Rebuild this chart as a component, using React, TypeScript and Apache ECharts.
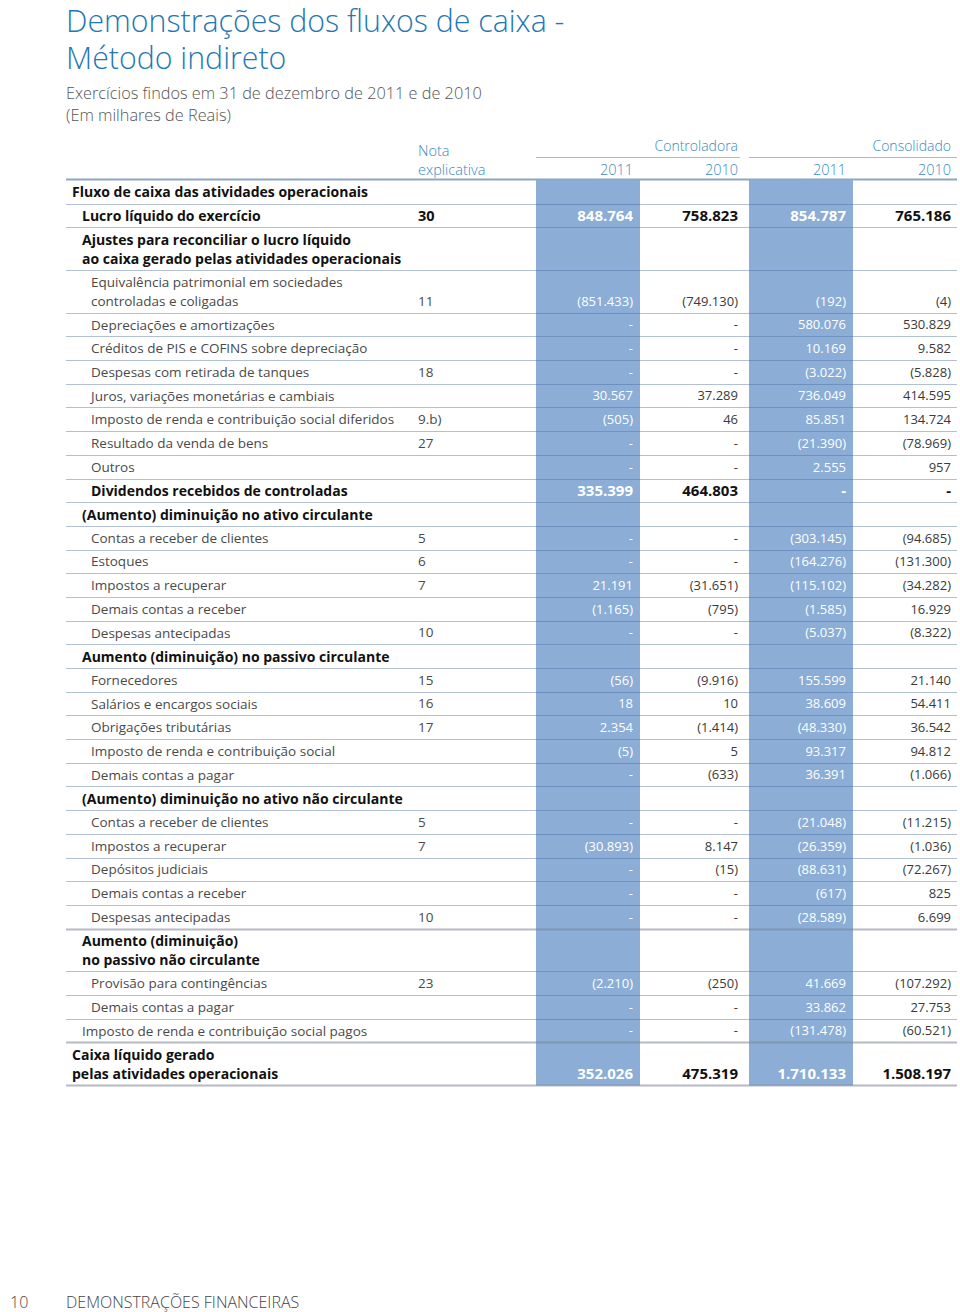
import React, { useEffect, useRef } from "react";
import * as echarts from "echarts";

const titleLines = ["Demonstrações dos fluxos de caixa -", "Método indireto"];
const subtitleLines = ["Exercícios findos em 31 de dezembro de 2011 e de 2010", "(Em milhares de Reais)"];
const noteHeader = ["Nota", "explicativa"];
const groupNames = ["Controladora", "Consolidado"];
const years = ["2011", "2010", "2011", "2010"];
const footerPage = "10";
const footerText = "DEMONSTRAÇÕES FINANCEIRAS";

// S = section heading (bold, no values), B = bold row with values, I = regular item
const labels = [
  "Fluxo de caixa das atividades operacionais",
  "Lucro líquido do exercício",
  "Ajustes para reconciliar o lucro líquido\nao caixa gerado pelas atividades operacionais",
  "Equivalência patrimonial em sociedades\ncontroladas e coligadas",
  "Depreciações e amortizações",
  "Créditos de PIS e COFINS sobre depreciação",
  "Despesas com retirada de tanques",
  "Juros, variações monetárias e cambiais",
  "Imposto de renda e contribuição social diferidos",
  "Resultado da venda de bens",
  "Outros",
  "Dividendos recebidos de controladas",
  "(Aumento) diminuição no ativo circulante",
  "Contas a receber de clientes",
  "Estoques",
  "Impostos a recuperar",
  "Demais contas a receber",
  "Despesas antecipadas",
  "Aumento (diminuição) no passivo circulante",
  "Fornecedores",
  "Salários e encargos sociais",
  "Obrigações tributárias",
  "Imposto de renda e contribuição social",
  "Demais contas a pagar",
  "(Aumento) diminuição no ativo não circulante",
  "Contas a receber de clientes",
  "Impostos a recuperar",
  "Depósitos judiciais",
  "Demais contas a receber",
  "Despesas antecipadas",
  "Aumento (diminuição)\nno passivo não circulante",
  "Provisão para contingências",
  "Demais contas a pagar",
  "Imposto de renda e contribuição social pagos",
  "Caixa líquido gerado\npelas atividades operacionais",
];
const indent = [0, 1, 1, 2, 2, 2, 2, 2, 2, 2, 2, 2, 1, 2, 2, 2, 2, 2, 1, 2, 2, 2, 2, 2, 1, 2, 2, 2, 2, 2, 1, 2, 2, 1, 0];
const kinds = ["S", "B", "S", "I", "I", "I", "I", "I", "I", "I", "I", "B", "S", "I", "I", "I", "I", "I", "S", "I", "I", "I", "I", "I", "S", "I", "I", "I", "I", "I", "S", "I", "I", "I", "B"];
const notes = ["", "30", "", "11", "", "", "18", "", "9.b)", "27", "", "", "", "5", "6", "7", "", "10", "", "15", "16", "17", "", "", "", "5", "7", "", "", "10", "", "23", "", "", ""];
const ctrl2011 = [null, 848764, null, -851433, null, null, null, 30567, -505, null, null, 335399, null, null, null, 21191, -1165, null, null, -56, 18, 2354, -5, null, null, null, -30893, null, null, null, null, -2210, null, null, 352026];
const ctrl2010 = [null, 758823, null, -749130, null, null, null, 37289, 46, null, null, 464803, null, null, null, -31651, -795, null, null, -9916, 10, -1414, 5, -633, null, null, 8147, -15, null, null, null, -250, null, null, 475319];
const cons2011 = [null, 854787, null, -192, 580076, 10169, -3022, 736049, 85851, -21390, 2555, null, null, -303145, -164276, -115102, -1585, -5037, null, 155599, 38609, -48330, 93317, 36391, null, -21048, -26359, -88631, -617, -28589, null, 41669, 33862, -131478, 1710133];
const cons2010 = [null, 765186, null, -4, 530829, 9582, -5828, 414595, 134724, -78969, 957, null, null, -94685, -131300, -34282, 16929, -8322, null, 21140, 54411, 36542, 94812, -1066, null, -11215, -1036, -72267, 825, 6699, null, -107292, 27753, -60521, 1508197];
const thickLineAfter = [29, 33];

const FONT = "'Open Sans', 'Noto Sans', sans-serif";
const BLUE_COL = "#8badd6";
const LINE = "rgba(70,105,160,0.42)";

function fmt(v: number | null): string {
  if (v === null || v === undefined) return "-";
  const s = Math.abs(v).toString().replace(/\B(?=(\d{3})+(?!\d))/g, ".");
  return v < 0 ? `(${s})` : s;
}

export default function App() {
  const ref = useRef<HTMLDivElement>(null);
  useEffect(() => {
    if (!ref.current) return;
    const chart = echarts.init(ref.current, undefined, { renderer: "svg" });

    // row heights in units: single line = 1, double line = 1.8
    const rows: any[] = [];
    let acc = 0;
    labels.forEach((l, i) => {
      const h = l.includes("\n") ? 1.8 : 1;
      rows.push([0, acc, acc + h, i]);
      acc += h;
    });
    const total = acc;
    const GW = 891;

    const colRects = [
      [470, 574],
      [683, 787],
    ];
    const valueRight = [567, 672, 780, 885];
    const series = [ctrl2011, ctrl2010, cons2011, cons2010];
    const indentX = [6, 16, 25];

    const renderItem = (params: any, api: any) => {
      const i = api.value(3);
      const y0 = api.value(1);
      const y1 = api.value(2);
      const top = api.coord([0, y0])[1];
      const bot = api.coord([0, y1])[1];
      const X = (u: number) => api.coord([u, y0])[0];
      const kind = kinds[i];
      const bold = kind !== "I";
      const children: any[] = [];
      colRects.forEach(([a, b]) => {
        children.push({
          type: "rect",
          shape: { x: X(a), y: top, width: X(b) - X(a), height: bot - top + 0.5 },
          style: { fill: BLUE_COL },
          z2: 0,
        });
      });
      const thick = thickLineAfter.includes(i) || i === labels.length - 1;
      children.push({
        type: "line",
        shape: { x1: X(0), y1: Math.round(bot) + 0.5, x2: X(GW), y2: Math.round(bot) + 0.5 },
        style: { stroke: thick ? "rgba(120,130,145,0.55)" : LINE, lineWidth: thick ? 2 : 1 },
        z2: 5,
      });
      children.push({
        type: "text",
        x: X(indentX[indent[i]]),
        y: (top + bot) / 2,
        style: {
          text: labels[i],
          fill: bold ? "#111" : "#4a4a4a",
          font: bold ? `bold 14px ${FONT}` : `normal 13.5px ${FONT}`,
          lineHeight: 19,
          align: "left",
          verticalAlign: "middle",
        },
        z2: 10,
      });
      const vy = bot - 12;
      if (notes[i]) {
        children.push({
          type: "text",
          x: X(352),
          y: vy,
          style: {
            text: notes[i],
            fill: bold ? "#111" : "#4a4a4a",
            font: bold ? `bold 14.5px ${FONT}` : `normal 13.5px ${FONT}`,
            align: "left",
            verticalAlign: "middle",
          },
          z2: 10,
        });
      }
      if (kind !== "S") {
        series.forEach((arr, c) => {
          const onBlue = c === 0 || c === 2;
          children.push({
            type: "text",
            x: X(valueRight[c]),
            y: vy,
            style: {
              text: fmt(arr[i] as any),
              fill: onBlue ? "#ffffff" : bold ? "#111" : "#3a3a3a",
              font: bold ? `bold 15px ${FONT}` : `normal 13px ${FONT}`,
              align: "right",
              verticalAlign: "middle",
            },
            z2: 10,
          });
        });
      }
      return { type: "group", children };
    };

    const headerBlue = "#3a89c3";
    const graphic: any[] = [
      {
        type: "text",
        x: 66,
        y: 39,
        style: {
          text: titleLines.join("\n"),
          fill: "#1f77b4",
          font: `300 30.3px ${FONT}`,
          lineHeight: 37,
          verticalAlign: "middle",
        },
      },
      {
        type: "text",
        x: 66,
        y: 104,
        style: {
          text: subtitleLines.join("\n"),
          fill: "#555",
          font: `300 16.3px ${FONT}`,
          lineHeight: 22,
          verticalAlign: "middle",
        },
      },
      {
        type: "text",
        x: 418,
        y: 159.5,
        style: {
          text: noteHeader.join("\n"),
          fill: headerBlue,
          font: `300 14.5px ${FONT}`,
          lineHeight: 19,
          verticalAlign: "middle",
        },
      },
      ...groupNames.map((t, k) => ({
        type: "text",
        x: k === 0 ? 738 : 951,
        y: 145,
        style: { text: t, fill: headerBlue, font: `300 14px ${FONT}`, align: "right", verticalAlign: "middle" },
      })),
      ...years.map((t, k) => ({
        type: "text",
        x: 66 + valueRight[k],
        y: 169,
        style: { text: t, fill: headerBlue, font: `300 14.5px ${FONT}`, align: "right", verticalAlign: "middle" },
      })),
      { type: "line", shape: { x1: 536, y1: 157.5, x2: 740, y2: 157.5 }, style: { stroke: "#a9bbd2", lineWidth: 1 } },
      { type: "line", shape: { x1: 749, y1: 157.5, x2: 957, y2: 157.5 }, style: { stroke: "#a9bbd2", lineWidth: 1 } },
      { type: "line", shape: { x1: 66, y1: 179.5, x2: 957, y2: 179.5 }, style: { stroke: "#8ea6c4", lineWidth: 2 } },
      {
        type: "text",
        x: 10,
        y: 1302,
        style: { text: footerPage, fill: "#444", font: `300 16px ${FONT}`, verticalAlign: "middle" },
      },
      {
        type: "text",
        x: 66,
        y: 1302,
        style: { text: footerText, fill: "#444", font: `300 16px ${FONT}`, verticalAlign: "middle" },
      },
    ];

    chart.setOption({
      animation: false,
      backgroundColor: "#ffffff",
      grid: { left: 66, top: 180, width: GW, height: 905 },
      xAxis: { type: "value", min: 0, max: GW, show: false },
      yAxis: { type: "value", min: 0, max: total, inverse: true, show: false },
      graphic,
      series: [
        {
          type: "custom",
          renderItem,
          data: rows,
          encode: { x: 0, y: [1, 2] },
          clip: false,
          silent: true,
        },
      ],
    });
    return () => chart.dispose();
  }, []);
  return (
    <div
      ref={ref}
      style={{ position: "absolute", left: 0, top: 0, width: 960, height: 1312 }}
    />
  );
}
